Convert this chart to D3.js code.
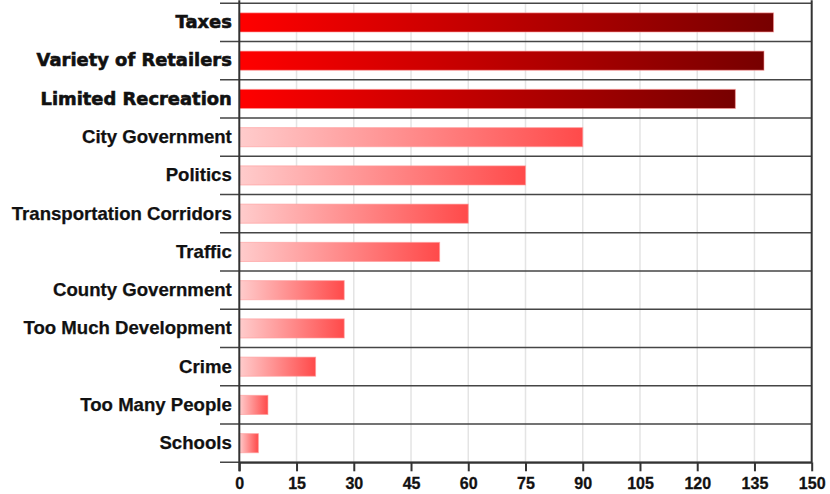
<!DOCTYPE html>
<html><head><meta charset="utf-8">
<script src="https://cdn.jsdelivr.net/npm/d3@7"></script>
<style>
html,body{margin:0;padding:0;background:#fff;}
svg{display:block;}
</style></head>
<body>
<svg id="chart" width="830" height="494"></svg>
<script>
const categories = ["Taxes","Variety of Retailers","Limited Recreation","City Government","Politics","Transportation Corridors","Traffic","County Government","Too Much Development","Crime","Too Many People","Schools"];
const values = [140, 137.5, 130, 90, 75, 60, 52.5, 27.5, 27.5, 20, 7.5, 5];
const highlighted = ["Taxes","Variety of Retailers","Limited Recreation"];
const xTicks = [0,15,30,45,60,75,90,105,120,135,150];

(function(){
const svg = d3.select("#chart");
const mLeft = 239.3, mRight = 811.7, mTop = 3.3, mBottom = 462.3;

const x = d3.scaleLinear().domain([0,150]).range([mLeft,mRight]);
const y = d3.scaleBand().domain(categories).range([mTop,mBottom]).paddingInner(0.5).paddingOuter(0.25);

const defs = svg.append("defs");
const gHi = defs.append("linearGradient").attr("id","gradHi").attr("x1","0%").attr("x2","100%").attr("y1","0%").attr("y2","0%");
gHi.append("stop").attr("offset","0%").attr("stop-color","#ff0000");
gHi.append("stop").attr("offset","100%").attr("stop-color","#770000");
const gLo = defs.append("linearGradient").attr("id","gradLo").attr("x1","0%").attr("x2","100%").attr("y1","0%").attr("y2","0%");
gLo.append("stop").attr("offset","0%").attr("stop-color","#ffcccc");
gLo.append("stop").attr("offset","100%").attr("stop-color","#ff4a4a");

// vertical grid lines
svg.append("g").selectAll("line").data(xTicks.slice(1,-1)).join("line")
  .attr("x1",d=>x(d)).attr("x2",d=>x(d)).attr("y1",mTop).attr("y2",mBottom)
  .attr("stroke","#e4e4e4").attr("stroke-width",1.5);

// row separators
const bounds = d3.range(categories.length+1).map(i => mTop + i*(mBottom-mTop)/categories.length);
svg.append("g").selectAll("line").data(bounds).join("line")
  .attr("x1",220).attr("x2",mRight).attr("y1",d=>d).attr("y2",d=>d)
  .attr("stroke","#454545").attr("stroke-width",1.6);

// bars
svg.append("g").selectAll("rect").data(categories).join("rect")
  .attr("x",x(0)).attr("y",d=>y(d)).attr("height",y.bandwidth())
  .attr("width",(d,i)=>x(values[i])-x(0))
  .attr("fill",d=>highlighted.includes(d)?"url(#gradHi)":"url(#gradLo)")
  .attr("stroke","#ff9a9a").attr("stroke-opacity",0.6).attr("stroke-width",1);

// left axis labels
const yAxis = svg.append("g").attr("transform",`translate(${mLeft},0)`)
  .call(d3.axisLeft(y).tickSize(0).tickPadding(7.5));
yAxis.select(".domain").remove();
yAxis.selectAll("text")
  .attr("fill","#111")
  .attr("stroke","#111")
  .attr("stroke-width",d=>highlighted.includes(d)?0.6:0.25)
  .style("font-family",d=>highlighted.includes(d)?"'DejaVu Sans', sans-serif":"'Liberation Sans', Arial, sans-serif")
  .style("font-size",d=>highlighted.includes(d)?"17.9px":"18.6px")
  .style("font-weight","bold");

// bottom axis
const xAxis = svg.append("g").attr("transform",`translate(0,${mBottom})`)
  .call(d3.axisBottom(x).tickValues(xTicks).tickSize(9).tickPadding(6).tickSizeOuter(0));
xAxis.select(".domain").attr("stroke","#333").attr("stroke-width",2);
xAxis.selectAll(".tick line").attr("stroke","#333").attr("stroke-width",2);
xAxis.selectAll("text").attr("fill","#111").attr("stroke","#111").attr("stroke-width",0.3)
  .style("font-family","'Liberation Sans', Arial, sans-serif")
  .style("font-size","16px").style("font-weight","bold");

// left and right frame lines
svg.append("line").attr("x1",mLeft).attr("x2",mLeft).attr("y1",mTop-3).attr("y2",mBottom+9)
  .attr("stroke","#333").attr("stroke-width",2);
svg.append("line").attr("x1",mRight).attr("x2",mRight).attr("y1",mTop-3).attr("y2",mBottom)
  .attr("stroke","#333").attr("stroke-width",2);
})();
</script>
</body></html>
